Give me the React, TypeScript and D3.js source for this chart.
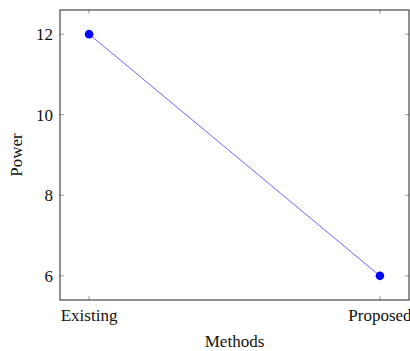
import * as d3 from "d3";

const methods = ["Existing", "Proposed"];
const power = [12, 6];
const yTicks = [6, 8, 10, 12];

const width = 410;
const height = 351;
const MARGIN = { top: 10, right: 1, bottom: 51, left: 60 };
const FONT = "'Liberation Serif', 'DejaVu Serif', serif";
const FS = 17;

export default function App() {
  const boundsWidth = width - MARGIN.left - MARGIN.right;
  const boundsHeight = height - MARGIN.top - MARGIN.bottom;

  // pgfplots-style enlarged limits
  const xScale = d3.scaleLinear().domain([-0.1, 1.1]).range([0, boundsWidth]);
  const yScale = d3.scaleLinear().domain([5.4, 12.6]).range([boundsHeight, 0]);

  const line = d3
    .line<number>()
    .x((d, i) => xScale(i))
    .y((d) => yScale(d));

  const tickLen = 4;

  return (
    <svg
      width={width}
      height={height}
      style={{ position: "absolute", top: 0, left: 0, background: "white" }}
    >
      <g transform={`translate(${MARGIN.left},${MARGIN.top})`}>
        {/* y ticks */}
        {yTicks.map((t) => (
          <g key={t}>
            <line x1={0} x2={tickLen} y1={yScale(t)} y2={yScale(t)} stroke="#999" />
            <line
              x1={boundsWidth - tickLen}
              x2={boundsWidth}
              y1={yScale(t)}
              y2={yScale(t)}
              stroke="#999"
            />
            <text
              x={-7}
              y={yScale(t)}
              dy="0.35em"
              textAnchor="end"
              fontFamily={FONT}
              fontSize={FS}
              fill="#111"
            >
              {t}
            </text>
          </g>
        ))}
        {/* x ticks */}
        {methods.map((m, i) => (
          <g key={m}>
            <line x1={xScale(i)} x2={xScale(i)} y1={boundsHeight} y2={boundsHeight - tickLen} stroke="#999" />
            <line x1={xScale(i)} x2={xScale(i)} y1={0} y2={tickLen} stroke="#999" />
            <text
              x={xScale(i)}
              y={boundsHeight + 21}
              textAnchor="middle"
              fontFamily={FONT}
              fontSize={FS}
              fill="#111"
            >
              {m}
            </text>
          </g>
        ))}
        <path d={line(power) ?? ""} fill="none" stroke="#0000ff" strokeOpacity={0.6} strokeWidth={1} />
        {power.map((p, i) => (
          <circle key={i} cx={xScale(i)} cy={yScale(p)} r={4.3} fill="#0000ff" />
        ))}
        <rect x={0} y={0} width={boundsWidth} height={boundsHeight} fill="none" stroke="#222" strokeWidth={1} />
        <text
          x={boundsWidth / 2}
          y={boundsHeight + 47}
          textAnchor="middle"
          fontFamily={FONT}
          fontSize={FS}
          fill="#111"
        >
          Methods
        </text>
        <text
          transform={`translate(${-38},${boundsHeight / 2}) rotate(-90)`}
          textAnchor="middle"
          fontFamily={FONT}
          fontSize={FS}
          fill="#111"
        >
          Power
        </text>
      </g>
    </svg>
  );
}
